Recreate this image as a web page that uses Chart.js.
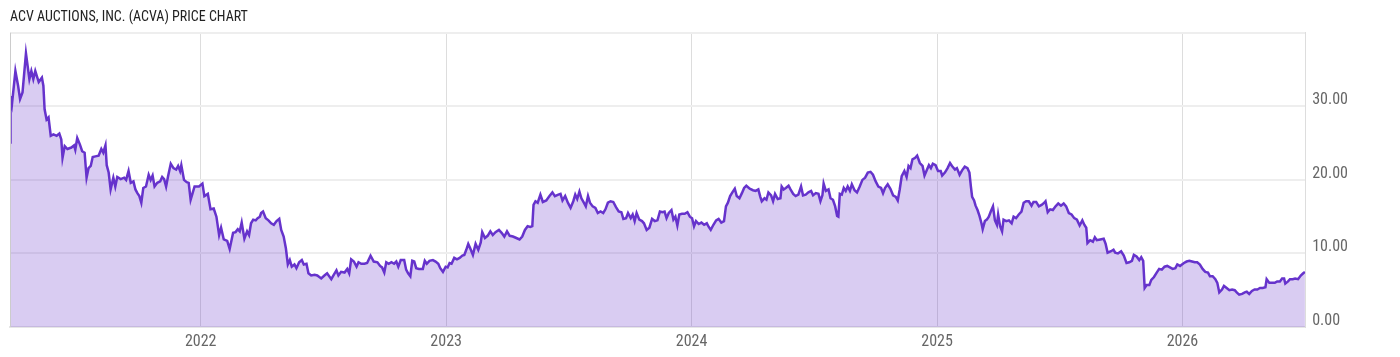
<!DOCTYPE html>
<html>
<head>
<meta charset="utf-8">
<script src="https://cdn.jsdelivr.net/npm/chart.js@4.4.1/dist/chart.umd.min.js"></script>
<style>
  html, body { margin: 0; padding: 0; background: #fff; }
  #wrap { width: 1400px; height: 357px; }
</style>
</head>
<body>
<div id="wrap"><canvas id="priceChart" width="1400" height="357"></canvas></div>
<script>
// Dates as decimal years, closing prices in USD
const dates = [
  2021.223, 2021.225, 2021.231, 2021.245, 2021.256, 2021.264, 2021.274, 2021.288, 2021.302, 2021.310,
  2021.318, 2021.326, 2021.340, 2021.353, 2021.359, 2021.364, 2021.372, 2021.380, 2021.389, 2021.400,
  2021.413, 2021.424, 2021.432, 2021.437, 2021.446, 2021.457, 2021.473, 2021.484, 2021.489, 2021.497,
  2021.508, 2021.517, 2021.527, 2021.535, 2021.543, 2021.552, 2021.560, 2021.571, 2021.584, 2021.595,
  2021.603, 2021.612, 2021.617, 2021.625, 2021.633, 2021.644, 2021.652, 2021.660, 2021.674, 2021.688,
  2021.696, 2021.706, 2021.715, 2021.726, 2021.734, 2021.742, 2021.750, 2021.758, 2021.766, 2021.777,
  2021.788, 2021.796, 2021.804, 2021.812, 2021.823, 2021.835, 2021.843, 2021.851, 2021.859, 2021.867,
  2021.878, 2021.889, 2021.900, 2021.908, 2021.916, 2021.921, 2021.932, 2021.943, 2021.951, 2021.959,
  2021.967, 2021.975, 2021.986, 2021.993, 2022.007, 2022.015, 2022.029, 2022.040, 2022.053, 2022.064,
  2022.075, 2022.083, 2022.094, 2022.108, 2022.118, 2022.132, 2022.142, 2022.151, 2022.159, 2022.167,
  2022.178, 2022.189, 2022.197, 2022.205, 2022.214, 2022.224, 2022.232, 2022.241, 2022.246, 2022.254,
  2022.265, 2022.276, 2022.287, 2022.298, 2022.309, 2022.320, 2022.328, 2022.338, 2022.347, 2022.355,
  2022.363, 2022.371, 2022.382, 2022.390, 2022.401, 2022.412, 2022.420, 2022.431, 2022.439, 2022.450,
  2022.464, 2022.475, 2022.491, 2022.504, 2022.515, 2022.532, 2022.542, 2022.553, 2022.561, 2022.572,
  2022.586, 2022.597, 2022.605, 2022.613, 2022.624, 2022.635, 2022.643, 2022.654, 2022.667, 2022.678,
  2022.692, 2022.705, 2022.720, 2022.731, 2022.739, 2022.748, 2022.756, 2022.766, 2022.777, 2022.788,
  2022.797, 2022.805, 2022.815, 2022.829, 2022.837, 2022.845, 2022.854, 2022.862, 2022.870, 2022.878,
  2022.889, 2022.905, 2022.913, 2022.921, 2022.932, 2022.946, 2022.957, 2022.968, 2022.976, 2022.987,
  2022.998, 2023.006, 2023.014, 2023.022, 2023.033, 2023.044, 2023.055, 2023.066, 2023.074, 2023.082,
  2023.090, 2023.098, 2023.109, 2023.120, 2023.131, 2023.141, 2023.147, 2023.158, 2023.169, 2023.180,
  2023.190, 2023.201, 2023.215, 2023.226, 2023.237, 2023.248, 2023.259, 2023.272, 2023.286, 2023.299,
  2023.310, 2023.321, 2023.332, 2023.343, 2023.351, 2023.356, 2023.364, 2023.373, 2023.384, 2023.394,
  2023.408, 2023.421, 2023.433, 2023.443, 2023.457, 2023.466, 2023.474, 2023.485, 2023.496, 2023.507,
  2023.518, 2023.526, 2023.534, 2023.543, 2023.551, 2023.561, 2023.569, 2023.578, 2023.586, 2023.597,
  2023.608, 2023.618, 2023.629, 2023.640, 2023.649, 2023.659, 2023.670, 2023.681, 2023.692, 2023.703,
  2023.714, 2023.722, 2023.733, 2023.741, 2023.752, 2023.760, 2023.768, 2023.776, 2023.787, 2023.798,
  2023.806, 2023.817, 2023.828, 2023.839, 2023.850, 2023.861, 2023.871, 2023.882, 2023.890, 2023.898,
  2023.907, 2023.918, 2023.926, 2023.934, 2023.942, 2023.950, 2023.961, 2023.972, 2023.983, 2023.993,
  2024.002, 2024.010, 2024.018, 2024.029, 2024.040, 2024.051, 2024.062, 2024.070, 2024.078, 2024.089,
  2024.100, 2024.110, 2024.121, 2024.132, 2024.140, 2024.148, 2024.157, 2024.168, 2024.176, 2024.184,
  2024.195, 2024.205, 2024.214, 2024.223, 2024.237, 2024.250, 2024.261, 2024.272, 2024.280, 2024.286,
  2024.297, 2024.305, 2024.313, 2024.324, 2024.332, 2024.340, 2024.351, 2024.362, 2024.367, 2024.375,
  2024.384, 2024.395, 2024.403, 2024.414, 2024.424, 2024.435, 2024.446, 2024.454, 2024.465, 2024.476,
  2024.487, 2024.495, 2024.506, 2024.517, 2024.525, 2024.533, 2024.538, 2024.547, 2024.558, 2024.566,
  2024.576, 2024.585, 2024.593, 2024.598, 2024.604, 2024.612, 2024.620, 2024.628, 2024.636, 2024.645,
  2024.653, 2024.664, 2024.674, 2024.685, 2024.696, 2024.707, 2024.718, 2024.729, 2024.739, 2024.750,
  2024.761, 2024.772, 2024.780, 2024.788, 2024.799, 2024.810, 2024.821, 2024.832, 2024.840, 2024.848,
  2024.856, 2024.867, 2024.876, 2024.884, 2024.892, 2024.900, 2024.911, 2024.919, 2024.930, 2024.941,
  2024.949, 2024.958, 2024.967, 2024.975, 2024.983, 2024.994, 2025.004, 2025.015, 2025.021, 2025.032,
  2025.043, 2025.053, 2025.061, 2025.073, 2025.081, 2025.092, 2025.102, 2025.113, 2025.124, 2025.132,
  2025.138, 2025.143, 2025.151, 2025.157, 2025.165, 2025.173, 2025.181, 2025.186, 2025.195, 2025.203,
  2025.211, 2025.219, 2025.228, 2025.236, 2025.244, 2025.249, 2025.257, 2025.265, 2025.271, 2025.282,
  2025.293, 2025.304, 2025.312, 2025.322, 2025.333, 2025.344, 2025.353, 2025.363, 2025.374, 2025.385,
  2025.393, 2025.404, 2025.415, 2025.426, 2025.437, 2025.442, 2025.451, 2025.461, 2025.472, 2025.483,
  2025.494, 2025.505, 2025.516, 2025.526, 2025.537, 2025.548, 2025.559, 2025.570, 2025.581, 2025.592,
  2025.600, 2025.608, 2025.613, 2025.624, 2025.635, 2025.643, 2025.651, 2025.665, 2025.679, 2025.687,
  2025.695, 2025.709, 2025.719, 2025.726, 2025.737, 2025.750, 2025.761, 2025.772, 2025.783, 2025.794,
  2025.802, 2025.813, 2025.824, 2025.832, 2025.840, 2025.846, 2025.854, 2025.865, 2025.873, 2025.884,
  2025.895, 2025.905, 2025.916, 2025.927, 2025.938, 2025.949, 2025.960, 2025.971, 2025.979, 2025.990,
  2025.998, 2026.006, 2026.017, 2026.028, 2026.039, 2026.050, 2026.060, 2026.071, 2026.082, 2026.093,
  2026.104, 2026.112, 2026.123, 2026.134, 2026.142, 2026.150, 2026.161, 2026.169, 2026.180, 2026.191,
  2026.202, 2026.213, 2026.221, 2026.231, 2026.243, 2026.254, 2026.262, 2026.272, 2026.283, 2026.294,
  2026.305, 2026.316, 2026.327, 2026.338, 2026.343, 2026.354, 2026.365, 2026.376, 2026.386, 2026.397,
  2026.406, 2026.414, 2026.419, 2026.430, 2026.438, 2026.449, 2026.459, 2026.471, 2026.482, 2026.492,
  2026.499
];

const prices = [
  25.1, 31.4, 30.3, 34.8, 32.8, 31.0, 31.9, 37.2, 33.7, 34.8,
  33.7, 34.8, 33.3, 33.9, 32.8, 29.6, 28.2, 28.5, 26.0, 26.2,
  26.0, 26.3, 25.5, 23.0, 24.6, 24.2, 24.4, 24.7, 24.1, 25.7,
  24.8, 23.9, 23.7, 20.3, 21.6, 21.9, 23.1, 23.2, 23.3, 24.2,
  23.7, 24.7, 22.0, 21.0, 18.7, 20.3, 19.1, 20.4, 20.1, 20.3,
  20.0, 21.2, 19.6, 19.8, 18.7, 18.2, 17.8, 16.9, 18.9, 19.1,
  20.7, 20.0, 20.6, 19.1, 19.6, 19.8, 20.4, 20.1, 19.1, 20.5,
  22.2, 21.6, 21.4, 21.9, 21.2, 22.0, 20.0, 19.7, 19.6, 17.3,
  18.2, 19.1, 19.1, 19.1, 19.5, 17.8, 18.1, 16.0, 16.1, 15.0,
  12.5, 13.5, 11.9, 11.7, 10.6, 12.8, 12.9, 13.3, 13.0, 14.2,
  12.0, 13.0, 12.5, 14.1, 14.6, 14.5, 14.8, 15.0, 15.5, 15.7,
  14.8, 14.5, 14.1, 13.9, 14.4, 14.7, 13.2, 12.3, 10.7, 8.5,
  9.1, 8.2, 8.5, 8.0, 8.8, 9.1, 8.5, 8.6, 7.3, 7.0,
  7.1, 7.0, 6.6, 7.0, 7.3, 6.5, 7.1, 7.7, 7.0, 7.5,
  7.4, 7.9, 7.3, 9.2, 8.9, 8.2, 8.8, 8.6, 8.6, 8.7,
  9.7, 8.9, 8.8, 8.3, 8.1, 7.4, 8.8, 8.6, 8.8, 8.6,
  8.9, 8.2, 9.1, 9.1, 7.8, 7.3, 6.9, 9.0, 8.9, 8.0,
  7.9, 7.9, 9.0, 8.6, 9.0, 9.1, 8.9, 8.6, 8.0, 7.5,
  8.2, 8.1, 8.7, 8.6, 9.4, 9.2, 9.4, 9.7, 9.8, 10.5,
  11.3, 10.7, 9.8, 11.3, 10.5, 11.5, 12.9, 12.1, 12.4, 13.0,
  12.5, 12.9, 13.2, 12.8, 12.3, 13.0, 12.4, 12.3, 12.1, 11.9,
  12.3, 13.2, 13.7, 13.6, 13.7, 16.6, 17.1, 16.9, 18.0, 17.0,
  17.2, 17.8, 18.3, 17.8, 18.0, 18.1, 17.2, 17.8, 16.9, 16.2,
  17.1, 18.0, 17.4, 18.4, 17.5, 16.9, 16.4, 17.8, 16.9, 16.4,
  16.2, 15.5, 15.7, 15.5, 16.0, 16.9, 17.1, 17.0, 16.3, 15.7,
  15.6, 14.7, 14.8, 15.5, 14.8, 15.3, 14.4, 15.5, 14.6, 14.4,
  14.1, 13.2, 13.5, 14.7, 14.4, 14.5, 15.7, 15.6, 15.7, 14.8,
  15.5, 15.9, 14.6, 15.0, 13.8, 15.3, 15.4, 15.4, 15.6, 15.0,
  14.8, 13.7, 14.4, 14.0, 14.2, 13.9, 14.1, 13.6, 13.2, 13.9,
  14.5, 14.7, 14.2, 14.4, 16.4, 16.9, 17.8, 18.4, 18.8, 17.8,
  17.5, 18.2, 18.9, 19.2, 18.8, 18.6, 18.5, 18.7, 17.7, 17.1,
  17.5, 17.3, 18.3, 17.9, 17.1, 18.1, 17.4, 17.5, 19.1, 18.7,
  18.9, 19.2, 18.7, 18.1, 17.8, 18.0, 19.1, 17.9, 18.0, 18.3,
  18.5, 17.9, 18.2, 18.1, 17.1, 17.9, 19.5, 18.5, 18.7, 17.5,
  17.3, 16.4, 15.1, 15.0, 18.1, 18.0, 18.9, 18.5, 19.1, 18.5,
  19.4, 18.6, 18.3, 19.1, 20.0, 20.3, 21.0, 21.1, 20.7, 19.8,
  19.1, 18.9, 18.2, 18.9, 19.4, 18.8, 17.9, 17.7, 17.2, 18.7,
  20.5, 21.2, 20.4, 21.9, 21.6, 22.8, 23.0, 23.3, 22.3, 21.9,
  20.6, 21.3, 22.0, 21.6, 22.2, 22.0, 21.2, 21.2, 20.6, 21.0,
  21.6, 22.3, 21.9, 21.4, 21.6, 20.7, 21.3, 21.8, 21.6, 21.0,
  19.1, 17.7, 17.2, 16.5, 15.9, 15.1, 14.1, 13.3, 14.4, 14.6,
  15.0, 15.7, 16.4, 14.5, 13.9, 15.3, 13.7, 13.0, 14.6, 14.4,
  14.5, 14.1, 15.0, 14.8, 15.3, 15.7, 16.9, 17.1, 17.1, 16.5,
  17.0, 17.0, 16.4, 16.6, 16.9, 17.1, 15.6, 16.0, 15.9, 16.4,
  16.8, 16.5, 16.8, 16.4, 15.5, 15.3, 14.8, 14.6, 13.8, 14.5,
  13.9, 13.5, 11.4, 11.8, 11.6, 12.2, 11.8, 11.9, 12.0, 11.3,
  10.1, 10.3, 10.5, 10.1, 10.0, 10.3, 9.7, 8.7, 8.8, 9.0,
  9.8, 9.6, 9.1, 9.5, 9.0, 5.3, 5.7, 5.7, 6.4, 6.8,
  7.4, 7.9, 7.8, 8.2, 8.3, 8.1, 7.9, 8.0, 8.5, 8.3,
  8.5, 8.7, 8.9, 9.0, 8.9, 8.8, 8.8, 8.5, 7.9, 7.5,
  7.4, 6.9, 6.9, 6.5, 6.0, 4.7, 5.1, 5.6, 5.3, 5.0,
  5.1, 5.0, 4.7, 4.4, 4.5, 4.7, 4.8, 4.5, 4.9, 5.1,
  5.1, 5.3, 5.3, 5.4, 6.5, 6.0, 6.0, 6.0, 6.2, 6.2,
  6.6, 6.6, 5.9, 6.2, 6.5, 6.5, 6.6, 6.5, 7.0, 7.3,
  7.5
];

const yearTicks = [2022, 2023, 2024, 2025, 2026];
const priceTicks = [0, 10, 20, 30, 40];

const points = dates.map((d, i) => ({ x: d, y: prices[i] }));

const labelFont = "'Roboto Condensed', 'Liberation Sans Narrow', Roboto, sans-serif";

// thin frame on the left side of the plot
const frameLeft = {
  id: 'frameLeft',
  afterDatasetsDraw(chart) {
    const { ctx, chartArea } = chart;
    ctx.save();
    ctx.strokeStyle = '#cccccc';
    ctx.lineWidth = 1;
    ctx.beginPath();
    ctx.moveTo(chartArea.left + 0.5, chartArea.top);
    ctx.lineTo(chartArea.left + 0.5, chartArea.bottom);
    ctx.stroke();
    ctx.restore();
  }
};

const ctx = document.getElementById('priceChart').getContext('2d');
const priceChart = new Chart(ctx, {
  type: 'line',
  data: {
    datasets: [{
      label: 'ACVA',
      data: points,
      borderColor: '#6633cc',
      borderWidth: 2.5,
      backgroundColor: 'rgba(102, 51, 204, 0.25)',
      fill: 'origin',
      pointRadius: 0,
      tension: 0
    }]
  },
  options: {
    responsive: false,
    animation: false,
    layout: { padding: { left: 10, right: 45, top: 0, bottom: 0 } },
    plugins: {
      legend: { display: false },
      tooltip: { enabled: false },
      title: {
        display: true,
        text: 'ACV AUCTIONS, INC. (ACVA) PRICE CHART',
        align: 'start',
        color: '#222222',
        font: { family: labelFont, size: 14, weight: 'normal' },
        padding: { top: 9, bottom: 7 }
      }
    },
    scales: {
      x: {
        type: 'linear',
        min: 2021.223,
        max: 2026.5,
        afterBuildTicks: axis => { axis.ticks = yearTicks.map(v => ({ value: v })); },
        afterFit: axis => { axis.height = 30; },
        grid: { color: '#dddddd', lineWidth: 1, drawTicks: false },
        border: { color: '#e6e6e6', width: 2 },
        ticks: {
          color: '#666666',
          padding: 5,
          maxRotation: 0,
          font: { family: labelFont, size: 16 },
          callback: v => String(v)
        }
      },
      y: {
        position: 'right',
        min: 0,
        max: 40,
        afterBuildTicks: axis => { axis.ticks = priceTicks.map(v => ({ value: v })); },
        grid: { color: '#eeeeee', lineWidth: 2, drawTicks: false },
        border: { color: '#dddddd', width: 1 },
        ticks: {
          color: '#666666',
          padding: 7,
          labelOffset: -6,
          font: { family: labelFont, size: 16 },
          callback: v => (v === 40 ? '' : v.toFixed(2))
        }
      }
    }
  },
  plugins: [frameLeft]
});
</script>
</body>
</html>
